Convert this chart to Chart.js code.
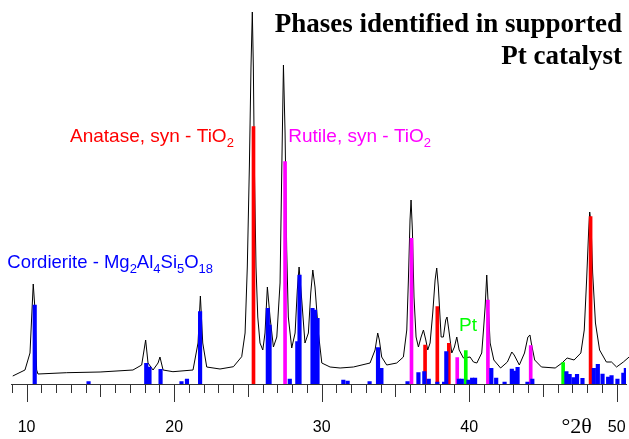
<!DOCTYPE html>
<html><head><meta charset="utf-8">
<script src="https://cdn.jsdelivr.net/npm/chart.js@4.4.1/dist/chart.umd.min.js"></script>
<style>html,body{margin:0;padding:0;background:#fff;} #wrap{width:629px;height:439px;position:relative;}</style>
</head><body><div id="wrap"><canvas id="c" width="629" height="439"></canvas></div>
<script>
// Measured XRD pattern (°2θ, intensity a.u.)
const curveX = [9.06,9.89,10.23,10.45,10.57,10.68,10.77,12.72,14.98,17.21,17.8,18.07,18.23,18.57,18.91,19.04,19.25,19.92,21.28,21.62,21.78,21.94,22.21,23.11,24.02,24.58,24.81,24.96,25.1,25.21,25.3,25.37,25.44,25.55,25.67,25.82,26.01,26.16,26.32,26.5,26.73,26.96,27.18,27.3,27.41,27.52,27.63,27.74,27.97,28.2,28.35,28.47,28.65,28.87,29.1,29.26,29.4,29.55,29.78,30.01,30.57,31.25,32.15,33.28,33.62,33.8,33.91,34.07,34.41,35.09,35.54,35.77,35.88,35.99,36.06,36.15,36.26,36.4,36.56,36.74,36.9,37.06,37.19,37.35,37.53,37.69,37.8,37.91,38.1,38.25,38.41,38.5,38.62,38.82,39.0,39.16,39.32,39.61,40.06,40.29,40.52,40.85,40.97,41.08,41.19,41.3,41.42,41.67,42.13,42.59,42.89,43.05,43.4,43.75,43.98,44.12,44.21,44.44,44.9,45.83,46.29,46.64,47.11,47.57,47.8,47.96,48.1,48.17,48.26,48.37,48.56,48.84,49.3,49.65,49.99,50.45,50.84];
const curveY = [8,14,31,100,74,14,10,11.3,12,14,19,44,21,14,21,27,14,12.3,14,41,88,41,17,15,17.3,27.3,51,117,217,317,372,317,217,117,67,41,34,51,97,67,37,47,101,217,319,251,134,67,36,51,94,117,84,41,51,91,114,97,51,21,17,16,17,21,34,51,44,27,19,21,27,54,104,164,184,154,87,47,37,47,54,44,34,41,71,104,116,97,47,47,64,67,54,31,37,47,34,26,27,22,21,31,54,77,109,77,41,24,16,22,32,29,19,31,47,49,41,24,17,16,21,26,24,31,54,104,154,172,161,111,61,34,22,22,17,22,27];

// Reference patterns (stick positions, relative heights)
const cordieriteX = [10.55,14.2,18.11,18.33,19.08,20.5,20.87,21.76,26.35,26.47,27.84,28.35,28.5,29.38,29.55,29.72,31.47,31.76,33.25,33.82,34.05,35.82,36.56,36.96,37.26,37.84,38.3,38.45,39.3,39.5,39.95,40.2,40.4,41.5,41.83,42.4,42.89,43.06,43.28,43.95,44.28,46.59,46.81,47.08,47.31,47.68,48.45,48.72,49.04,49.42,49.65,50.05,50.45,50.62];
const cordieriteY = [79,2.3,20.7,17,14.7,2.3,5,72.3,75.7,59,5,42.3,109,75.7,74,65.7,4,3,2.3,36.3,15.7,2.3,11.3,12.3,5,2,2,32.3,5,5,4,6,6,15.7,6,2,15,13,16.7,2,5,12.3,9.7,6.3,9.7,5.7,15.7,19.7,10,7,8.3,5,11,15.7];
const anataseX = [25.38,37.01,37.84,38.62,48.23];
const anataseY = [257.3,39,77.3,40.7,167.3];
const rutileX = [27.52,36.09,39.19,41.27,44.17];
const rutileY = [222.3,145.7,26.3,84,38.3];
const platinumX = [39.77,46.37];
const platinumY = [33.3,21.3];

const tickLabels = [10,20,30,40,50];
const xMin = 9, xMax = 50.63, yMax = 384;

function pts(xs, ys){ return xs.map((x,i)=>({x:x, y:ys[i]})); }

function chem(ctx, segs, x, y, color, size, subSize, family){
  ctx.fillStyle = color;
  ctx.textAlign = 'left';
  ctx.textBaseline = 'alphabetic';
  let cx = x;
  for (const [t, sub] of segs){
    ctx.font = (sub ? subSize : size) + 'px ' + family;
    ctx.fillText(t, cx, sub ? y + 5 : y);
    cx += ctx.measureText(t).width;
  }
}

const overlay = {
  id: 'overlay',
  afterDraw(chart){
    const ctx = chart.ctx, xs = chart.scales.x, area = chart.chartArea;
    ctx.save();
    ctx.strokeStyle = '#333'; ctx.lineWidth = 1;
    for (let v = Math.ceil(xMin); v <= xMax; v++){
      const px = Math.round(xs.getPixelForValue(v)) + 0.5;
      const len = v % 10 === 0 ? 18 : (v % 5 === 0 ? 13 : 9);
      ctx.beginPath(); ctx.moveTo(px, area.bottom); ctx.lineTo(px, area.bottom + len); ctx.stroke();
    }
    const sans = '"Liberation Sans", Arial, sans-serif';
    const serif = '"Liberation Serif", "Times New Roman", serif';
    ctx.fillStyle = '#000';
    ctx.font = 'bold 27px ' + serif;
    ctx.textAlign = 'right'; ctx.textBaseline = 'alphabetic';
    ctx.fillText('Phases identified in supported', 622, 31.5);
    ctx.fillText('Pt catalyst', 622, 64);
    ctx.font = '22px ' + serif; ctx.textAlign = 'left';
    ctx.fillText('°2θ', 561.5, 433);
    chem(ctx, [['Anatase, syn - TiO', false], ['2', true]], 70, 142.3, '#FF0000', 19, 13, sans);
    chem(ctx, [['Rutile, syn - TiO', false], ['2', true]], 288.3, 142.3, '#FF00FF', 19, 13, sans);
    chem(ctx, [['Cordierite - Mg', false], ['2', true], ['Al', false], ['4', true], ['Si', false], ['5', true], ['O', false], ['18', true]], 7.3, 267.7, '#0000FF', 18.5, 13, sans);
    chem(ctx, [['Pt', false]], 459, 330.7, '#00FF00', 19, 13, sans);
    ctx.restore();
  }
};

new Chart(document.getElementById('c'), {
  type: 'bar',
  data: {
    datasets: [
      {type:'line', data: pts(curveX, curveY), borderColor:'#000', borderWidth:1, pointRadius:0, tension:0, fill:false, order:5, clip:false},
      {type:'bar', data: pts(anataseX, anataseY), backgroundColor:'#FF0000', barThickness:3, grouped:false, order:4},
      {type:'bar', data: pts(rutileX, rutileY), backgroundColor:'#FF00FF', barThickness:3, grouped:false, order:3},
      {type:'bar', data: pts(platinumX, platinumY), backgroundColor:'#00FF00', barThickness:3, grouped:false, order:2},
      {type:'bar', data: pts(cordieriteX, cordieriteY), backgroundColor:'#0000FF', barThickness:3.5, grouped:false, order:1}
    ]
  },
  options: {
    responsive: false, animation: false, devicePixelRatio: 1,
    layout: {padding: {left: 11.85, right: 3, top: 0, bottom: 0}},
    plugins: {legend:{display:false}, tooltip:{enabled:false}, title:{display:false}},
    scales: {
      x: {type:'linear', min:xMin, max:xMax, offset:false,
          grid:{display:true, drawOnChartArea:false, drawTicks:true, tickLength:34, tickColor:'rgba(0,0,0,0)', offset:false},
          border:{display:true, color:'#333', width:1},
          ticks:{font:{family:'"Liberation Sans", Arial, sans-serif', size:16}, color:'#000', padding:0, maxRotation:0, autoSkip:false},
          afterBuildTicks: s => { s.ticks = tickLabels.map(v => ({value:v})); },
          afterFit: s => { s.height = 55; }
      },
      y: {type:'linear', min:0, max:yMax, display:false}
    }
  },
  plugins: [overlay]
});
</script>
</body></html>
